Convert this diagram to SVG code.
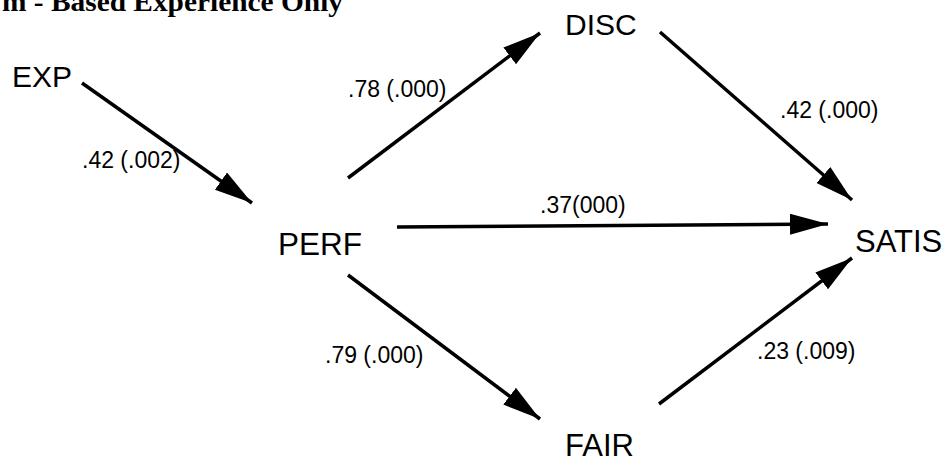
<svg xmlns="http://www.w3.org/2000/svg" width="949" height="462" viewBox="0 0 949 462">
<style>
.node{font-family:"Liberation Sans",Arial,sans-serif;font-size:31px;fill:#000}
.lbl{font-family:"Liberation Sans",Arial,sans-serif;font-size:23px;fill:#000}
.title{font-family:"Liberation Serif","Times New Roman",serif;font-weight:bold;font-size:28px;fill:#000}
.edge{stroke:#000;stroke-width:3.5;fill:none;marker-end:url(#ah)}
</style>
<defs>
<marker id="ah" markerUnits="userSpaceOnUse" markerWidth="42" markerHeight="24" refX="38" refY="10.5" orient="auto" viewBox="0 0 42 24">
<path d="M0,0 L38,10.5 L0,21 Z" fill="#000"/>
</marker>
</defs>
<rect width="949" height="462" fill="#fff"/>
<text class="title" x="2" y="11" textLength="341" lengthAdjust="spacingAndGlyphs">m - Based Experience Only</text>
<g id="connectors">
<line class="edge" x1="82" y1="83" x2="252" y2="203"/>
<line class="edge" x1="348" y1="178" x2="540" y2="33"/>
<line class="edge" x1="660" y1="32" x2="852" y2="200"/>
<line class="edge" x1="397" y1="227" x2="828" y2="224"/>
<line class="edge" x1="348" y1="275" x2="540" y2="419"/>
<line class="edge" x1="659" y1="404" x2="852" y2="258"/>
<text class="lbl" x="82" y="168">.42 (.002)</text>
<text class="lbl" x="348" y="97">.78 (.000)</text>
<text class="lbl" x="780" y="118">.42 (.000)</text>
<text class="lbl" x="540" y="213">.37(000)</text>
<text class="lbl" x="325" y="363">.79 (.000)</text>
<text class="lbl" x="757" y="359">.23 (.009)</text>
</g>
<g id="EXP"><text class="node" x="12" y="87" style="font-size:30px">EXP</text></g>
<g id="DISC"><text class="node" x="565" y="35" style="font-size:30px">DISC</text></g>
<g id="PERF"><text class="node" x="278" y="255" style="font-size:31.5px">PERF</text></g>
<g id="SATIS"><text class="node" x="855" y="252">SATIS</text></g>
<g id="FAIR"><text class="node" x="565" y="456">FAIR</text></g>
</svg>
